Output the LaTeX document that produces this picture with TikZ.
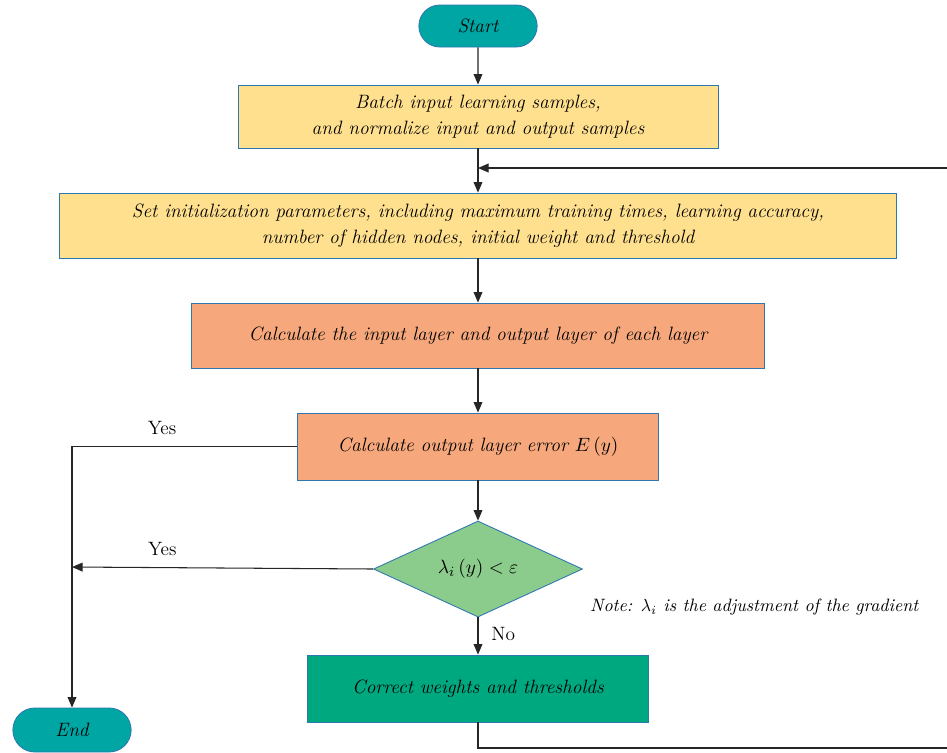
\documentclass[tikz,border=0pt]{standalone}
\usetikzlibrary{arrows.meta,shapes.geometric,shapes.misc}
\definecolor{termteal}{RGB}{0,166,164}
\definecolor{boxyellow}{RGB}{255,224,142}
\definecolor{boxsalmon}{RGB}{246,168,124}
\definecolor{condgreen}{RGB}{139,204,140}
\definecolor{fixgreen}{RGB}{0,168,128}
\definecolor{edgeblue}{RGB}{46,120,176}

\begin{document}
\begin{tikzpicture}[x=0.02cm,y=-0.02cm,
    font=\fontsize{11}{14.5}\selectfont,
    stepbox/.style={draw=edgeblue, line width=0.5pt, align=center, inner sep=2pt, font=\fontsize{11}{14.5}\selectfont\itshape},
    term/.style={rounded rectangle, draw=edgeblue, line width=0.5pt, fill=termteal, font=\fontsize{11}{14.5}\selectfont\itshape},
    decision/.style={diamond, aspect=2.18, draw=edgeblue, line width=0.5pt, fill=condgreen, inner sep=0pt},
    arr/.style={-{Triangle[length=6pt,width=5pt]}, line width=0.6pt, draw=black!85}]
\useasboundingbox (0,0) rectangle (947,752);

%%%%% START %%%%%
\node[term, minimum width=2.6cm, minimum height=0.84cm] (start) at (478,26) {Start};
\node[stepbox, fill=boxyellow, minimum width=9.6cm, minimum height=1.26cm] (batch) at (478,116.5)
    {Batch input learning samples,\\and normalize input and output samples};
\node[stepbox, fill=boxyellow, minimum width=16.76cm, minimum height=1.3cm] (init) at (478,225.5)
    {Set initialization parameters, including maximum training times, learning accuracy,\\number of hidden nodes, initial weight and threshold};
\node[stepbox, fill=boxsalmon, minimum width=11.46cm, minimum height=1.3cm] (calc) at (478,335.5)
    {Calculate the input layer and output layer of each layer};
\node[stepbox, fill=boxsalmon, minimum width=7.22cm, minimum height=1.34cm] (err) at (478,446.5)
    {Calculate output layer error $E\,(y)$};
\node[decision, minimum width=4.18cm, minimum height=1.92cm] (cond) at (478,569)
    {$\lambda_i\,(y) < \varepsilon$};
\node[stepbox, fill=fixgreen, minimum width=6.82cm, minimum height=1.34cm] (fix) at (478,688.5)
    {Correct weights and thresholds};
\node[term, minimum width=2.6cm, minimum height=0.88cm] (end) at (72,730) {End};

\node[anchor=west, font=\fontsize{10.2}{13.5}\selectfont\itshape] (note) at (584,607)
    {Note: $\lambda_i$ is the adjustment of the gradient};

% main flow
\draw[arr] (start) -- (batch);
\draw[arr] (batch) -- (init);
\draw[arr] (init) -- (calc);
\draw[arr] (calc) -- (err);
\draw[arr] (err) -- (cond);
\draw[arr] (cond) -- node[pos=0.45, right=4pt] (no) {No} (fix);

% exits
\coordinate (join) at (72,567);
\draw[arr] (err.west) -| node[pos=0.3, above=3pt] (yesa) {Yes} (end.north);
\draw[arr] (cond.west) -- node[pos=0.7, above=3pt] (yesb) {Yes} (join);

% loop back
\coordinate (loop) at (478,168);
\coordinate (rb) at (955,748);
\coordinate (rt) at (955,168);
\draw[arr] (fix.south) |- (rb) -- (rt) -- (loop);
%%%%% END %%%%%
\end{tikzpicture}
\end{document}
